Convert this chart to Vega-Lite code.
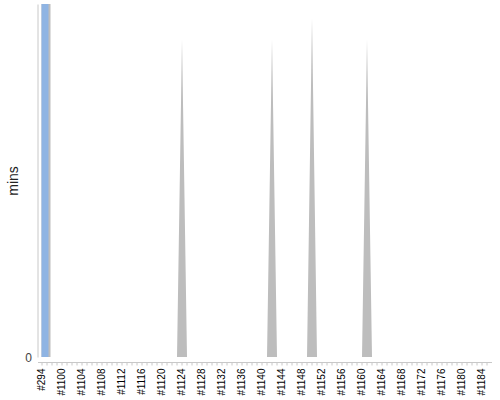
{
  "$schema": "https://vega.github.io/schema/vega-lite/v6.json",
  "width": 454,
  "height": 353,
  "autosize": "none",
  "padding": {"left": 37.5, "top": 4, "right": 8.5, "bottom": 43},
  "config": {"view": {"stroke": null}, "font": "Liberation Sans"},
  "data": {"values": [
    {"id": "#294", "bar": 100, "mins": 0},
    {"id": "#1097", "mins": 0}, {"id": "#1098", "mins": 0}, {"id": "#1099", "mins": 0},
    {"id": "#1100", "mins": 0}, {"id": "#1101", "mins": 0}, {"id": "#1102", "mins": 0}, {"id": "#1103", "mins": 0},
    {"id": "#1104", "mins": 0}, {"id": "#1105", "mins": 0}, {"id": "#1106", "mins": 0}, {"id": "#1107", "mins": 0},
    {"id": "#1108", "mins": 0}, {"id": "#1109", "mins": 0}, {"id": "#1110", "mins": 0}, {"id": "#1111", "mins": 0},
    {"id": "#1112", "mins": 0}, {"id": "#1113", "mins": 0}, {"id": "#1114", "mins": 0}, {"id": "#1115", "mins": 0},
    {"id": "#1116", "mins": 0}, {"id": "#1117", "mins": 0}, {"id": "#1118", "mins": 0}, {"id": "#1119", "mins": 0},
    {"id": "#1120", "mins": 0}, {"id": "#1121", "mins": 0}, {"id": "#1122", "mins": 0}, {"id": "#1123", "mins": 0},
    {"id": "#1124", "mins": 90}, {"id": "#1125", "mins": 0}, {"id": "#1126", "mins": 0}, {"id": "#1127", "mins": 0},
    {"id": "#1128", "mins": 0}, {"id": "#1129", "mins": 0}, {"id": "#1130", "mins": 0}, {"id": "#1131", "mins": 0},
    {"id": "#1132", "mins": 0}, {"id": "#1133", "mins": 0}, {"id": "#1134", "mins": 0}, {"id": "#1135", "mins": 0},
    {"id": "#1136", "mins": 0}, {"id": "#1137", "mins": 0}, {"id": "#1138", "mins": 0}, {"id": "#1139", "mins": 0},
    {"id": "#1140", "mins": 0}, {"id": "#1141", "mins": 0}, {"id": "#1142", "mins": 90}, {"id": "#1143", "mins": 0},
    {"id": "#1144", "mins": 0}, {"id": "#1145", "mins": 0}, {"id": "#1146", "mins": 0}, {"id": "#1147", "mins": 0},
    {"id": "#1148", "mins": 0}, {"id": "#1149", "mins": 0}, {"id": "#1150", "mins": 96}, {"id": "#1151", "mins": 0},
    {"id": "#1152", "mins": 0}, {"id": "#1153", "mins": 0}, {"id": "#1154", "mins": 0}, {"id": "#1155", "mins": 0},
    {"id": "#1156", "mins": 0}, {"id": "#1157", "mins": 0}, {"id": "#1158", "mins": 0}, {"id": "#1159", "mins": 0},
    {"id": "#1160", "mins": 0}, {"id": "#1161", "mins": 90}, {"id": "#1162", "mins": 0}, {"id": "#1163", "mins": 0},
    {"id": "#1164", "mins": 0}, {"id": "#1165", "mins": 0}, {"id": "#1166", "mins": 0}, {"id": "#1167", "mins": 0},
    {"id": "#1168", "mins": 0}, {"id": "#1169", "mins": 0}, {"id": "#1170", "mins": 0}, {"id": "#1171", "mins": 0},
    {"id": "#1172", "mins": 0}, {"id": "#1173", "mins": 0}, {"id": "#1174", "mins": 0}, {"id": "#1175", "mins": 0},
    {"id": "#1176", "mins": 0}, {"id": "#1177", "mins": 0}, {"id": "#1178", "mins": 0}, {"id": "#1179", "mins": 0},
    {"id": "#1180", "mins": 0}, {"id": "#1181", "mins": 0}, {"id": "#1182", "mins": 0}, {"id": "#1183", "mins": 0},
    {"id": "#1184", "mins": 0}, {"id": "#1185", "mins": 0}
  ]},
  "encoding": {
    "x": {
      "field": "id", "type": "nominal", "sort": null,
      "scale": {"type": "band", "paddingInner": 0, "paddingOuter": 0.4},
      "axis": {
        "title": null, "labelAngle": 270, "labelAlign": "right", "labelBaseline": "middle",
        "labelFontSize": 10, "labelColor": "#000", "labelPadding": 3,
        "labelExpr": "datum.label == '#294' || toNumber(slice(datum.label, 1)) % 4 == 0 ? datum.label : ''",
        "labelOverlap": false, "offset": 5,
        "domainColor": "#c8c8c8", "tickColor": "#c8c8c8", "tickSize": 3, "grid": false
      }
    }
  },
  "layer": [
    {
      "mark": {"type": "area", "color": "#bdbdbd", "interpolate": "linear"},
      "encoding": {
        "y": {
          "field": "mins", "type": "quantitative",
          "scale": {"domain": [0, 100], "nice": false},
          "axis": {
            "title": "mins", "values": [0], "grid": false, "ticks": false,
            "domainColor": "#c8c8c8", "labelColor": "#444", "labelFontSize": 12, "labelPadding": 6,
            "titleFontSize": 14, "titleFontWeight": "normal", "titleColor": "#222", "titlePadding": 4
          }
        }
      }
    },
    {
      "mark": {"type": "bar", "color": "#bdbdbd", "size": 9, "xOffset": 4},
      "encoding": {"y": {"field": "bar", "type": "quantitative"}}
    },
    {
      "mark": {"type": "bar", "color": "#8fb4e3", "size": 7, "xOffset": 3},
      "encoding": {"y": {"field": "bar", "type": "quantitative"}}
    }
  ]
}
